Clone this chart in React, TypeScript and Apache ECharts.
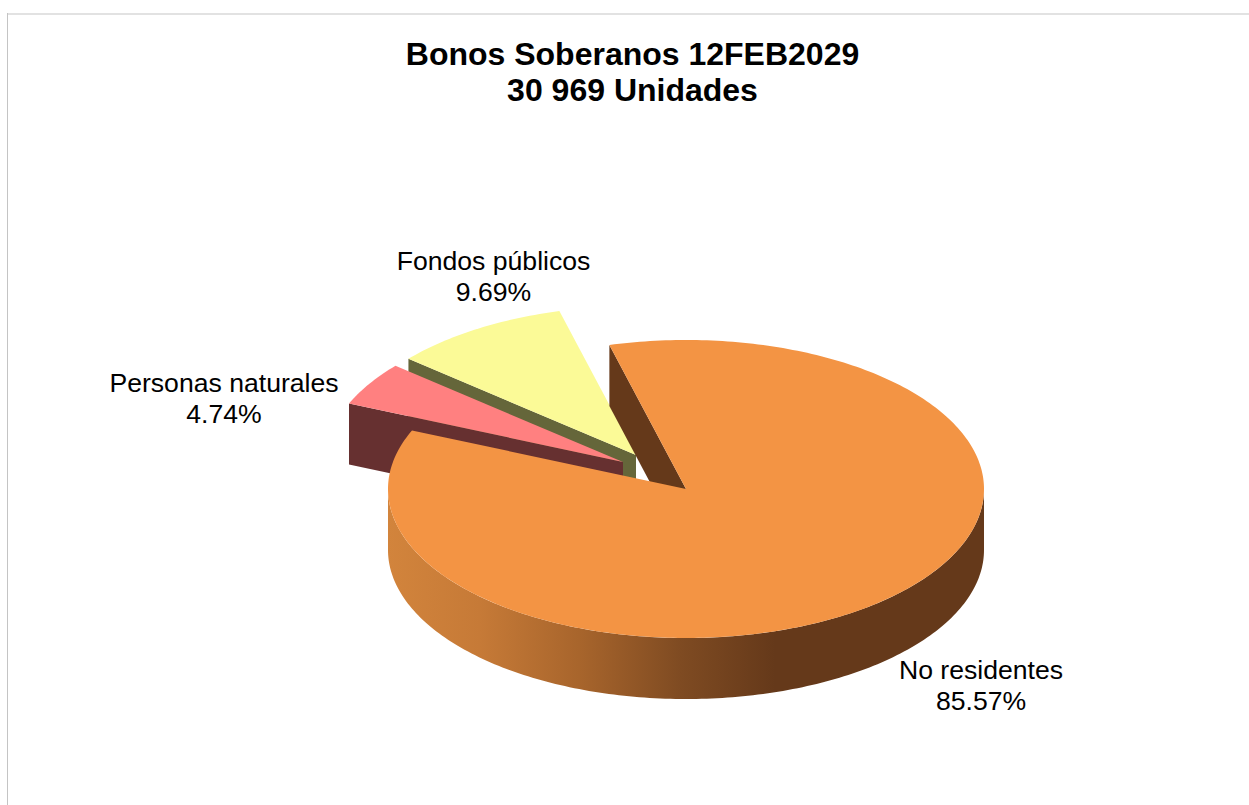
import React, { useEffect, useRef } from "react";
import * as echarts from "echarts";

const categories = ["No residentes", "Personas naturales", "Fondos públicos"];
const shares = [85.57, 4.74, 9.69];
const titleLines = ["Bonos Soberanos 12FEB2029", "30 969 Unidades"];
const drawOrder = [2, 1, 0];

const topColors = ["#F39444", "#FF8080", "#FBFA97"];
const faceColors = ["#65391A", "#663030", "#65663A"];
const explode = [[0, 0], [-63, -27], [-50, -34]];
const labelCentres = [[981, 685], [224, 398], [493.5, 276]];

const CX = 686;
const CY = 489;
const RX = 298;
const RY = 149;
const DEPTH = 61;
const START_ANGLE = -14.9;
const FONT = "'Liberation Sans', Arial, sans-serif";

const toPoint = (deg: number, ox: number, oy: number, dy = 0) => {
  const r = (deg * Math.PI) / 180;
  return [CX + ox + RX * Math.sin(r), CY + oy - RY * Math.cos(r) + dy];
};

const arc = (a: number, b: number, ox: number, oy: number, dy = 0) => {
  const pts: number[][] = [];
  const n = Math.max(2, Math.ceil(Math.abs(b - a)));
  for (let i = 0; i <= n; i++) pts.push(toPoint(a + ((b - a) * i) / n, ox, oy, dy));
  return pts;
};

const total = shares.reduce((s, v) => s + v, 0);
const startAngles = shares.map((_, i) =>
  START_ANGLE + (shares.slice(0, i).reduce((s, v) => s + v, 0) / total) * 360
);

const wallGradient = () =>
  new echarts.graphic.LinearGradient(
    CX - RX, 0, CX + RX, 0,
    [
      { offset: 0, color: "#D2843C" },
      { offset: 0.154, color: "#C67A37" },
      { offset: 0.32, color: "#A8652C" },
      { offset: 0.49, color: "#7F4B22" },
      { offset: 0.65, color: "#65391A" },
      { offset: 1, color: "#65391A" },
    ],
    true
  );

function renderSlice(_: any, api: any) {
  const i = api.value(0) as number;
  const a0 = startAngles[i];
  const a1 = a0 + (shares[i] / total) * 360;
  const [ox, oy] = explode[i];
  const apex = [CX + ox, CY + oy];
  const children: any[] = [];

  const outer = toPoint(a0, ox, oy);
  children.push({
    type: "polygon",
    shape: {
      points: [outer, apex, [apex[0], apex[1] + DEPTH], [outer[0], outer[1] + DEPTH]],
    },
    style: { fill: faceColors[i] },
  });

  const wa = Math.max(a0, 90);
  const wb = Math.min(a1, 270);
  if (wb > wa) {
    children.push({
      type: "polygon",
      shape: { points: [...arc(wa, wb, ox, oy), ...arc(wb, wa, ox, oy, DEPTH)] },
      style: { fill: wallGradient() },
    });
  }

  children.push({
    type: "polygon",
    shape: { points: [apex, ...arc(a0, a1, ox, oy)] },
    style: { fill: topColors[i] },
  });

  const [lx, ly] = labelCentres[i];
  children.push({
    type: "text",
    x: lx,
    y: ly,
    style: {
      text: `${categories[i]}\n${shares[i].toFixed(2)}%`,
      font: `26.6px ${FONT}`,
      fill: "#000",
      align: "center",
      verticalAlign: "middle",
      lineHeight: 31,
    },
  });

  return { type: "group", children };
}

export default function App() {
  const ref = useRef<HTMLDivElement>(null);
  useEffect(() => {
    const chart = echarts.init(ref.current!, undefined, { renderer: "svg" });
    chart.setOption({
      animation: false,
      backgroundColor: "#fff",
      title: {
        text: titleLines.join("\n"),
        left: 627.5,
        top: 31,
        textAlign: "center",
        textStyle: {
          fontFamily: FONT,
          fontWeight: "bold",
          fontSize: 32,
          lineHeight: 36,
          color: "#000",
        },
      },
      graphic: [
        {
          type: "line",
          shape: { x1: 7, y1: 14, x2: 1249, y2: 14 },
          style: { stroke: "#E2E2E2", lineWidth: 2 },
        },
        {
          type: "line",
          shape: { x1: 7.5, y1: 13, x2: 7.5, y2: 805 },
          style: { stroke: "#C4C4C4", lineWidth: 1 },
        },
      ],
      series: [
        {
          type: "custom",
          coordinateSystem: "none",
          renderItem: renderSlice,
          data: drawOrder.map((i) => [i]),
          silent: true,
        },
      ],
    });
    return () => chart.dispose();
  }, []);
  return (
    <div
      ref={ref}
      style={{ position: "fixed", left: 0, top: 0, width: 1249, height: 805 }}
    />
  );
}
